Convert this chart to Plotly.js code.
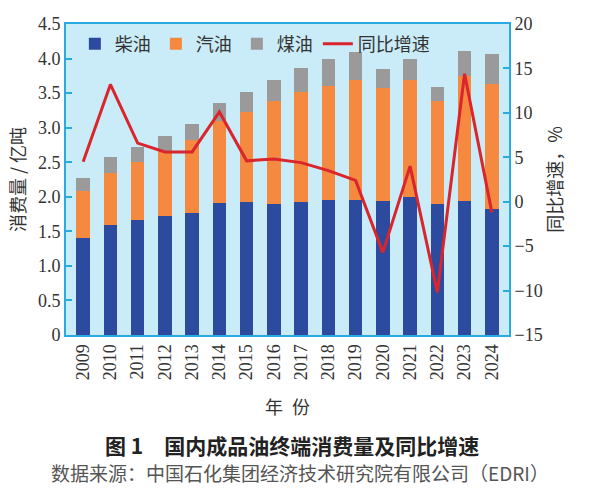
<!DOCTYPE html>
<html>
<head>
<meta charset="utf-8">
<script src="https://cdn.plot.ly/plotly-3.0.1.min.js"></script>
<style>html,body{margin:0;padding:0;background:#fff;}#chart{width:597px;height:500px;}</style>
</head>
<body>
<div id="chart"></div>
<script>
const years = ['2009','2010','2011','2012','2013','2014','2015','2016','2017','2018','2019','2020','2021','2022','2023','2024'];
const diesel = [1.40,1.59,1.66,1.72,1.77,1.91,1.92,1.90,1.92,1.95,1.96,1.94,1.99,1.90,1.94,1.83];
const gasoline = [0.69,0.76,0.85,0.94,1.05,1.18,1.31,1.48,1.59,1.65,1.73,1.63,1.70,1.48,1.81,1.80];
const kerosene = [0.18,0.22,0.21,0.22,0.23,0.27,0.29,0.31,0.35,0.39,0.40,0.28,0.31,0.21,0.36,0.43];
const growth = [4.5,13.2,6.6,5.6,5.6,10.1,4.6,4.8,4.4,3.5,2.4,-5.7,4.0,-10.2,14.4,-1.2];
const leftTickVals = [0,0.5,1.0,1.5,2.0,2.5,3.0,3.5,4.0,4.5];
const leftTickText = ['0','0.5','1.0','1.5','2.0','2.5','3.0','3.5','4.0','4.5'];

const serif = 'Liberation Serif, serif';
const cjk = 'Noto Sans CJK SC, sans-serif';
const axisColor = '#29aae1';

const traces = [
  {type:'bar', name:'柴油', x:years, y:diesel, marker:{color:'#2c4b9e'}},
  {type:'bar', name:'汽油', x:years, y:gasoline, marker:{color:'#f4893f'}},
  {type:'bar', name:'煤油', x:years, y:kerosene, marker:{color:'#9a9a9a'}},
  {type:'scatter', mode:'lines', name:'同比增速', x:years, y:growth, yaxis:'y2',
   line:{color:'#d9252b', width:3}}
];

const layout = {
  width:597, height:500,
  margin:{l:66, r:88, t:24, b:165},
  paper_bgcolor:'#ffffff',
  plot_bgcolor:'#c9ecf8',
  barmode:'stack',
  bargap:0.51,
  font:{family:serif, size:18, color:'#333'},
  showlegend:true,
  legend:{orientation:'h', x:0.02, xanchor:'left', y:0.995, yanchor:'top',
          bgcolor:'rgba(0,0,0,0)', font:{family:cjk, size:18, color:'#333'},
          traceorder:'normal', itemwidth:30},
  xaxis:{type:'category', range:[-0.63,15.63], tickangle:-90,
         showline:true, linecolor:axisColor, linewidth:2, mirror:true,
         ticks:'', tickfont:{family:serif, size:18, color:'#333'},
         title:{text:'年\u2002份', font:{family:cjk, size:18, color:'#333'}, standoff:22},
         showgrid:false, zeroline:false},
  yaxis:{range:[0,4.5], tickvals:leftTickVals, ticktext:leftTickText,
         showline:true, linecolor:axisColor, linewidth:2, mirror:true,
         ticks:'inside', ticklen:6, tickcolor:axisColor, tickwidth:2,
         tickfont:{family:serif, size:18, color:'#333'},
         title:{text:'消费量 / 亿吨', font:{family:cjk, size:18, color:'#333'}, standoff:8},
         showgrid:false, zeroline:false},
  yaxis2:{overlaying:'y', side:'right', range:[-15,20], dtick:5, tick0:0,
          showline:true, linecolor:axisColor, linewidth:2,
          ticks:'inside', ticklen:6, tickcolor:axisColor, tickwidth:2,
          tickfont:{family:serif, size:18, color:'#333'},
          title:{text:'同比增速，%', font:{family:cjk, size:18, color:'#333'}, standoff:8},
          showgrid:false, zeroline:false},
  annotations:[
    {xref:'paper', yref:'paper', x:0.51, y:-0.3537, xanchor:'center', yanchor:'middle', showarrow:false,
     text:'<b>图 1　国内成品油终端消费量及同比增速</b>',
     font:{family:cjk, size:21, color:'#222'}},
    {xref:'paper', yref:'paper', x:0.528, y:-0.4437, xanchor:'center', yanchor:'middle', showarrow:false,
     text:'数据来源：中国石化集团经济技术研究院有限公司（EDRI）',
     font:{family:cjk, size:19, color:'#555'}}
  ]
};

Plotly.newPlot('chart', traces, layout, {displayModeBar:false, staticPlot:true});
</script>
</body>
</html>
